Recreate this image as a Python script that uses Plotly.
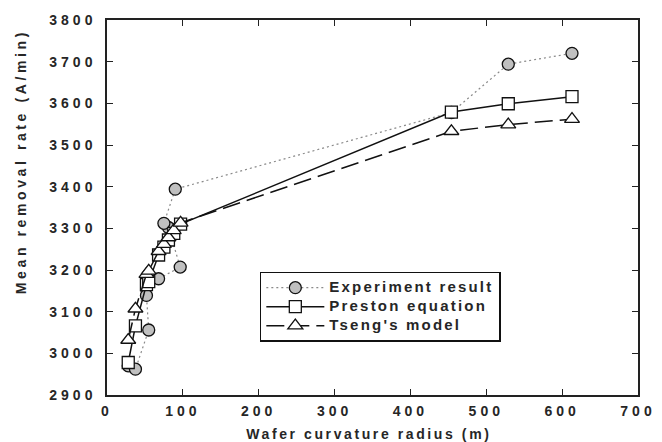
import plotly.graph_objects as go

# Data
exp_x = [28, 37.5, 55, 52, 68, 96.5, 81, 75, 90, 454, 529, 613]
exp_y = [2970, 2962, 3056, 3139, 3179, 3207, 3302, 3312, 3394, 3578, 3694, 3720]

model_x = [28, 37.5, 52, 55, 68, 75, 81, 88, 97, 454, 529, 613]
preston_y = [2978, 3066, 3165, 3172, 3236, 3255, 3272, 3288, 3310, 3579, 3599, 3616]
tseng_y = [3032, 3107, 3190, 3198, 3245, 3262, 3278, 3295, 3313, 3533, 3549, 3562]

x_ticks = [0, 100, 200, 300, 400, 500, 600, 700]
y_ticks = [2900, 3000, 3100, 3200, 3300, 3400, 3500, 3600, 3700, 3800]

FONT = "Liberation Sans, Arial, sans-serif"
TXT = "#262626"

fig = go.Figure()
fig.add_trace(go.Scatter(
    x=exp_x, y=exp_y, mode="lines+markers", name="Experiment result",
    line=dict(color="#8a8a8a", width=1.2, dash="2px,3px"),
    marker=dict(symbol="circle", size=12, color="#c0c0c0",
                line=dict(color="#111", width=1.3)),
))
fig.add_trace(go.Scatter(
    x=model_x, y=preston_y, mode="lines+markers", name="Preston equation",
    line=dict(color="#111", width=1.5),
    marker=dict(symbol="square", size=12, color="white",
                line=dict(color="#111", width=1.3)),
))
fig.add_trace(go.Scatter(
    x=model_x, y=tseng_y, mode="lines+markers", name="Tseng's model",
    line=dict(color="#111", width=1.5, dash="18px,7px"),
    marker=dict(symbol="triangle-up", size=13, color="white",
                line=dict(color="#111", width=1.3)),
))

axis_common = dict(
    showline=True, linecolor="#222", linewidth=1.5, mirror="ticks",
    ticks="inside", ticklen=6, tickwidth=1.3, tickcolor="#222",
    showgrid=False, zeroline=False, ticklabeloverflow="allow",
    tickfont=dict(family=FONT, size=14, color=TXT, weight="bold"),
)

fig.update_xaxes(range=[0, 700], tickvals=x_ticks,
                 ticktext=[str(v) for v in x_ticks], ticklabelstandoff=2,
                 **axis_common)
fig.update_yaxes(range=[2900, 3800], tickvals=y_ticks,
                 ticktext=[str(v) for v in y_ticks], ticklabelstandoff=6,
                 **axis_common)

fig.add_annotation(text="Wafer curvature radius (m)", xref="paper", yref="paper",
                   x=0.493, y=-0.104, showarrow=False, yanchor="middle",
                   font=dict(family=FONT, size=14, color=TXT, weight="bold"))
fig.add_annotation(text="Mean removal rate (A/min)", xref="paper", yref="paper",
                   x=-0.1605, y=0.623, showarrow=False, textangle=-90,
                   xanchor="center", yanchor="middle",
                   font=dict(family=FONT, size=14, color=TXT, weight="bold"))

fig.update_layout(
    width=662, height=442,
    margin=dict(l=107, r=13, t=18, b=47),
    paper_bgcolor="white", plot_bgcolor="white",
    showlegend=True,
    legend=dict(x=0.2878, y=0.3289, xanchor="left", yanchor="top",
                bgcolor="white", bordercolor="#111", borderwidth=1.5,
                font=dict(family=FONT, size=12, color=TXT, weight="bold"),
                tracegroupgap=0, itemwidth=58),
)

post = """
var gd = document.getElementById('{plot_id}');
var st = document.createElement('style');
st.textContent =
  '.xtick text, .ytick text { letter-spacing: 4px !important; }' +
  '.legendtext { letter-spacing: 2.2px !important; font-size: 15px !important; }' +
  '.annotation[data-index="0"] text { letter-spacing: 2.6px !important; }' +
  '.annotation[data-index="1"] text { letter-spacing: 3.6px !important; }';
document.head.appendChild(st);
Plotly.relayout(gd, {'legend.font.size': 12.01});
"""

fig.write_html("out.html", post_script=post)
